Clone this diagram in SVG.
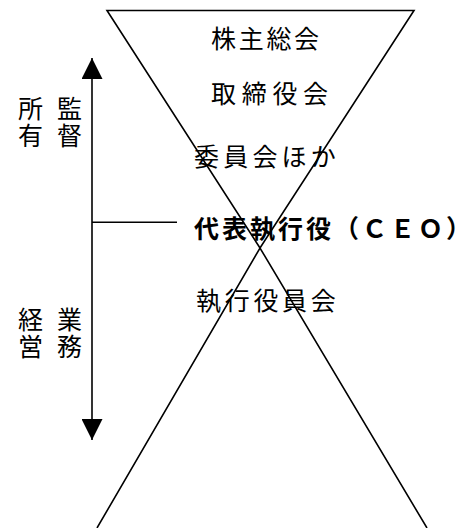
<svg xmlns="http://www.w3.org/2000/svg" width="475" height="528" viewBox="0 0 475 528">
<style>
.t{font-family:"Noto Sans CJK JP","Noto Sans CJK SC",sans-serif;font-size:25px;fill:#000}
.b{font-weight:bold}
.v{writing-mode:vertical-rl;letter-spacing:2px}
.ln{stroke:#000;stroke-width:1.6;fill:none}
</style>
<defs>
<marker id="ah" viewBox="0 0 22 21" refX="21" refY="10.5" markerWidth="22" markerHeight="21" markerUnits="userSpaceOnUse" orient="auto">
<path d="M0,0 L21,10.5 L0,21 Z" fill="#000"/>
</marker>
</defs>
<rect width="475" height="528" fill="#fff"/>
<g id="connectors">
<polygon class="ln" points="107,10.5 414,10.5 260,248"/>
<polyline class="ln" points="97,528 260,248 427,528"/>
<line class="ln" x1="92" y1="222" x2="92" y2="58" marker-end="url(#ah)"/>
<line class="ln" x1="92" y1="222" x2="92" y2="440" marker-end="url(#ah)"/>
<line class="ln" x1="92" y1="222.3" x2="177" y2="222.3"/>
</g>
<g id="shareholders"><text class="t" x="211" y="48" letter-spacing="2.7">株主総会</text></g>
<g id="board"><text class="t" x="211" y="103" letter-spacing="5.7">取締役会</text></g>
<g id="committees"><text class="t" x="194" y="166" letter-spacing="4.2">委員会ほか</text></g>
<g id="ceo"><text class="t b" x="194" y="238" letter-spacing="3">代表執行役（ＣＥＯ）</text></g>
<g id="officers"><text class="t" x="196" y="310" letter-spacing="3.7">執行役員会</text></g>
<g id="ownership"><text class="t v" x="30.5" y="96">所有</text></g>
<g id="supervision"><text class="t v" x="69.5" y="96">監督</text></g>
<g id="management"><text class="t v" x="30.5" y="307">経営</text></g>
<g id="operations"><text class="t v" x="69.5" y="307">業務</text></g>
</svg>
